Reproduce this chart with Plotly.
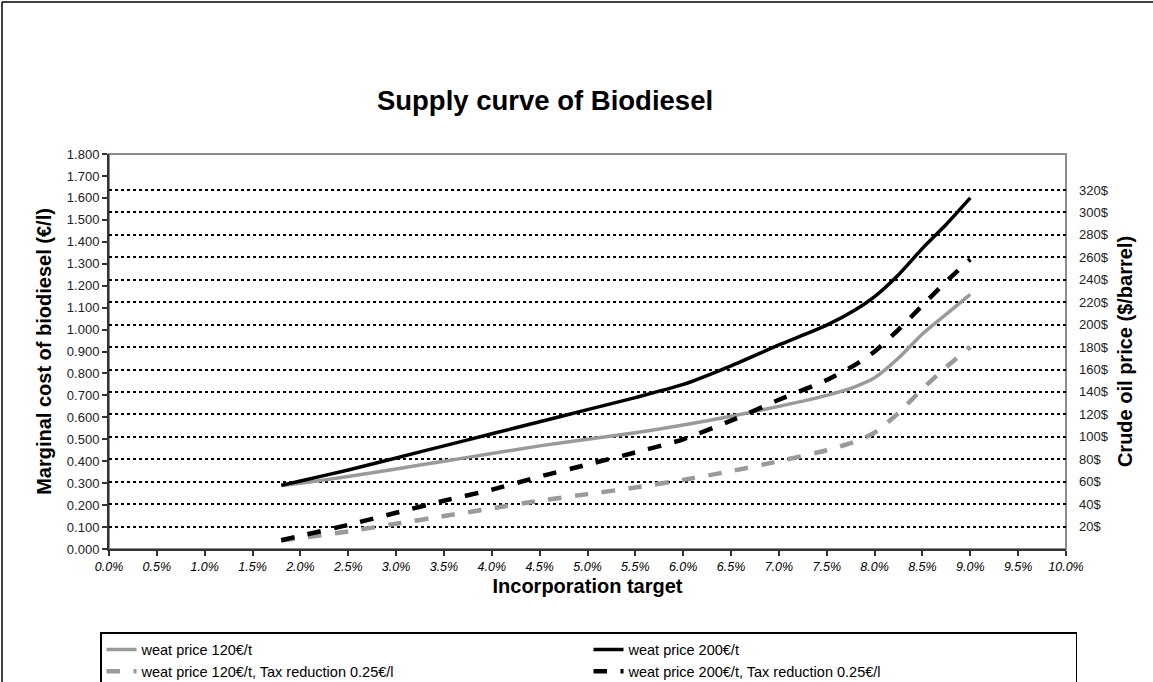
import plotly.graph_objects as go

# ---- data ----
incorporation = [1.8, 2.0, 2.5, 3.0, 3.5, 4.0, 4.5, 5.0, 5.5, 6.0, 6.5, 7.0, 7.5, 7.8, 8.0, 8.25, 8.5, 8.75, 9.0]
wheat120 = [0.29, 0.30, 0.33, 0.365, 0.40, 0.435, 0.47, 0.50, 0.53, 0.565, 0.605, 0.65, 0.70, 0.74, 0.78, 0.87, 0.98, 1.07, 1.16]
wheat200 = [0.29, 0.31, 0.36, 0.415, 0.47, 0.525, 0.58, 0.635, 0.69, 0.75, 0.835, 0.93, 1.02, 1.09, 1.15, 1.25, 1.37, 1.48, 1.60]
wheat120_tax = [0.04, 0.05, 0.08, 0.115, 0.15, 0.185, 0.22, 0.25, 0.28, 0.315, 0.355, 0.40, 0.45, 0.49, 0.53, 0.62, 0.73, 0.83, 0.92]
wheat200_tax = [0.04, 0.06, 0.11, 0.165, 0.22, 0.27, 0.33, 0.385, 0.44, 0.50, 0.585, 0.68, 0.77, 0.84, 0.90, 1.00, 1.11, 1.22, 1.32]

series_names = ["weat price 120€/t", "weat price 200€/t",
                "weat price 120€/t, Tax reduction 0.25€/l", "weat price 200€/t, Tax reduction 0.25€/l"]
oil_prices = [20, 40, 60, 80, 100, 120, 140, 160, 180, 200, 220, 240, 260, 280, 300, 320]
oil_labels = [f"{p}$" for p in oil_prices]
usd_per_eur_litre = 195.6  # $/barrel corresponding to 1 €/l

W, H = 1153, 682
L, R, T, B = 109, 87, 154, 133
pw, ph = W - L - R, H - T - B

def px_x(px):
    return (px - L) / pw

def px_y(py):
    return (H - B - py) / ph

FONT = "Liberation Sans, Arial, sans-serif"
GRAY = "#9a9a9a"

fig = go.Figure()
specs = [
    (wheat120, GRAY, "solid", 3.5),
    (wheat200, "black", "solid", 3.5),
    (wheat120_tax, GRAY, "dash", 4.5),
    (wheat200_tax, "black", "dash", 4.5),
]
for (vals, col, dash, w), name in zip(specs, series_names):
    fig.add_trace(go.Scatter(
        x=incorporation, y=vals, name=name, mode="lines",
        line=dict(color=col, dash=dash, width=w, shape="spline", smoothing=0.6),
        xaxis="x", yaxis="y"))

# invisible trace to activate right axis
fig.add_trace(go.Scatter(x=[0], y=[0], yaxis="y2", mode="markers",
                         marker=dict(opacity=0), showlegend=False, hoverinfo="skip"))

fig.update_layout(
    width=W, height=H,
    margin=dict(l=L, r=R, t=T, b=B, autoexpand=False),
    paper_bgcolor="white", plot_bgcolor="white",
    font=dict(family=FONT, color="black"),
    title=dict(text="<b>Supply curve of Biodiesel</b>", font=dict(size=27.5, family=FONT, color="black"),
               x=545 / W, xanchor="center", xref="container",
               y=1 - 100 / H, yanchor="middle", yref="container"),
    xaxis=dict(range=[0, 10], dtick=0.5, tick0=0, tickformat=".1f", ticksuffix="%",
               tickfont=dict(size=12.5, style="italic", color="black"),
               ticks="outside", ticklen=5, tickwidth=1.5, tickcolor="#333",
               showline=True, linecolor="#333", linewidth=2, showgrid=False, zeroline=False,
               automargin=False,
               title=dict(text="<b>Incorporation target</b>", font=dict(size=20), standoff=6)),
    yaxis=dict(range=[0, 1.8], dtick=0.1, tick0=0, tickformat=".3f",
               tickfont=dict(size=13, color="#222"),
               ticks="outside", ticklen=5, tickwidth=1.5, tickcolor="#333",
               showline=True, linecolor="#333", linewidth=2, showgrid=False, zeroline=False,
               automargin=False,
               title=dict(text="<b>Marginal cost of biodiesel (€/l)</b>", font=dict(size=20), standoff=10)),
    yaxis2=dict(overlaying="y", side="right", range=[0, 1.8 * usd_per_eur_litre],
                tickvals=oil_prices, ticktext=oil_labels,
                tickfont=dict(size=13, color="#222"), ticks="", ticklabelstandoff=12,
                showgrid=True, griddash="dot", gridcolor="black", gridwidth=2,
                showline=False, zeroline=False, automargin=False,
                title=dict(text="<b>Crude oil price ($/barrel)</b>", font=dict(size=20), standoff=10)),
    legend=dict(orientation="h", x=px_x(100), y=px_y(632), xanchor="left", yanchor="top",
                bordercolor="black", borderwidth=1.5, bgcolor="white",
                font=dict(family=FONT, size=14.5, color="black"),
                entrywidth=442, entrywidthmode="pixels", tracegroupgap=0),
    showlegend=True,
)

# gray plot-area frame (top/right)
fig.add_shape(type="rect", xref="x domain", yref="y domain", x0=0, x1=1, y0=0, y1=1,
              line=dict(color="#8c8c8c", width=2), layer="below")
# outer chart frame (left/top)
fig.add_shape(type="line", xref="paper", yref="paper", x0=px_x(2), x1=px_x(2), y0=px_y(2), y1=px_y(690),
              line=dict(color="black", width=1.5))
fig.add_shape(type="line", xref="paper", yref="paper", x0=px_x(2), x1=px_x(1160), y0=px_y(2), y1=px_y(2),
              line=dict(color="black", width=1.5))

fig.write_html("out.html", config={"displayModeBar": False},
               post_script="document.body.style.margin='0';document.body.style.overflow='hidden';")
